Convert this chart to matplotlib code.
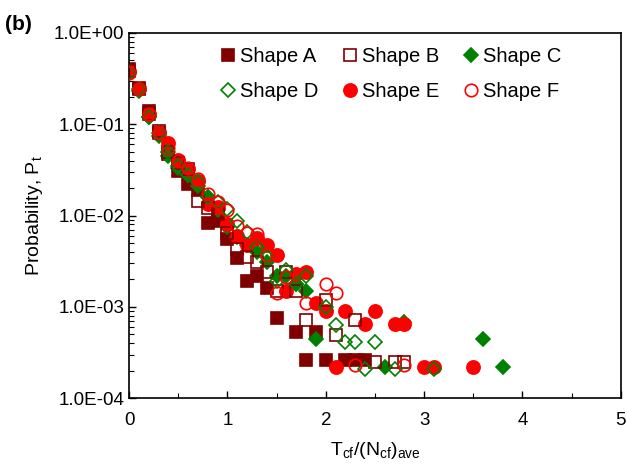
import matplotlib.pyplot as plt
from matplotlib.ticker import FixedLocator, MultipleLocator, LogLocator, NullFormatter

plt.rcParams["font.family"] = ["Liberation Sans", "DejaVu Sans"]
plt.rcParams["mathtext.default"] = "regular"

# Shape A - filled squares
xa = [0, 0.1, 0.2, 0.3, 0.4, 0.5, 0.6, 0.7, 0.8, 0.9, 1.0, 1.1, 1.2, 1.3, 1.4, 1.5,
      1.7, 1.8, 1.9, 2.0, 2.2, 2.3, 2.4]
ya = [0.40, 0.25, 0.14, 0.081, 0.047, 0.031, 0.022, 0.019, 0.0082, 0.0088, 0.0055,
      0.0034, 0.0019, 0.0022, 0.0016, 0.00076, 0.00053, 0.00026, 0.00053, 0.00026,
      0.00026, 0.00026, 0.00026]

# Shape B - open squares
xb = [0, 0.1, 0.2, 0.3, 0.4, 0.5, 0.6, 0.7, 0.8, 0.9, 1.0, 1.1, 1.2, 1.3, 1.4, 1.5,
      1.6, 1.7, 1.8, 2.0, 2.1, 2.3, 2.5, 2.7, 2.8]
yb = [0.38, 0.24, 0.13, 0.085, 0.05, 0.038, 0.032, 0.0144, 0.012, 0.0104, 0.0065,
      0.0043, 0.0035, 0.0031, 0.0024, 0.0015, 0.0024, 0.0015, 0.00072, 0.0012,
      0.00049, 0.00072, 0.00025, 0.00025, 0.00025]

# Shape C - filled diamonds
xc = [0, 0.1, 0.2, 0.3, 0.4, 0.5, 0.6, 0.7, 0.8, 0.9, 1.0, 1.1, 1.2, 1.3, 1.4, 1.5,
      1.6, 1.7, 1.8, 1.9, 2.6, 2.8, 3.6, 3.8]
yc = [0.37, 0.23, 0.12, 0.075, 0.045, 0.033, 0.028, 0.021, 0.016, 0.0115, 0.0075,
      0.0058, 0.0048, 0.004, 0.0031, 0.0022, 0.0022, 0.0018, 0.0015, 0.00045,
      0.00022, 0.00069, 0.00044, 0.00022]

# Shape D - open diamonds
xd = [0, 0.1, 0.2, 0.3, 0.4, 0.5, 0.6, 0.7, 0.8, 0.9, 1.0, 1.1, 1.2, 1.3, 1.4, 1.5,
      1.6, 1.7, 1.8, 2.0, 2.1, 2.2, 2.3, 2.4, 2.5, 2.7, 3.1]
yd = [0.36, 0.24, 0.12, 0.08, 0.05, 0.035, 0.028, 0.023, 0.016, 0.014, 0.0118,
      0.0087, 0.0066, 0.0045, 0.0035, 0.0019, 0.0025, 0.0018, 0.0022, 0.001,
      0.00063, 0.00041, 0.00041, 0.00021, 0.00041, 0.00021, 0.00021]

# Shape E - filled circles
xe = [0, 0.1, 0.2, 0.3, 0.4, 0.5, 0.6, 0.7, 0.8, 0.9, 1.0, 1.1, 1.2, 1.3, 1.4, 1.5,
      1.6, 1.7, 1.8, 1.9, 2.0, 2.1, 2.2, 2.4, 2.5, 2.7, 2.8, 3.0, 3.1, 3.5]
ye = [0.38, 0.25, 0.128, 0.083, 0.062, 0.041, 0.032, 0.024, 0.0134, 0.0123, 0.0081,
      0.006, 0.0047, 0.0057, 0.0047, 0.0037, 0.0015, 0.0023, 0.0024, 0.0011,
      0.00089, 0.00022, 0.00089, 0.00065, 0.00089, 0.00065, 0.00065, 0.00022,
      0.00022, 0.00022]

# Shape F - open circles
xf = [0, 0.1, 0.2, 0.3, 0.4, 0.5, 0.6, 0.7, 0.8, 0.9, 1.0, 1.1, 1.2, 1.3, 1.4, 1.5,
      1.6, 1.8, 2.0, 2.1, 2.3, 2.8]
yf = [0.36, 0.24, 0.13, 0.08, 0.055, 0.04, 0.033, 0.025, 0.017, 0.014, 0.0114,
      0.0077, 0.0065, 0.0063, 0.0037, 0.0014, 0.0021, 0.0011, 0.0018, 0.0014,
      0.00023, 0.00023]

ytick_vals = [1e-4, 1e-3, 1e-2, 1e-1, 1e0]
ytick_labels = ["1.0E-04", "1.0E-03", "1.0E-02", "1.0E-01", "1.0E+00"]

dred = "#800000"
green = "#008000"
red = "#ff0000"

fig = plt.figure(figsize=(6.27, 4.69), dpi=100)
ax = fig.add_axes([0.206, 0.151, 0.784, 0.779])

ms = 8.5
lA, = ax.plot(xa, ya, "s", color=dred, ms=ms, mew=1.2, label="Shape A")
lB, = ax.plot(xb, yb, "s", mfc="none", mec=dred, ms=ms, mew=1.2, label="Shape B")
lC, = ax.plot(xc, yc, "D", color=green, ms=7.5, mew=1.2, label="Shape C")
lD, = ax.plot(xd, yd, "D", mfc="none", mec=green, ms=7.5, mew=1.2, label="Shape D")
lE, = ax.plot(xe, ye, "o", color=red, ms=9.5, mew=1.2, label="Shape E")
lF, = ax.plot(xf, yf, "o", mfc="none", mec=red, ms=9, mew=1.2, label="Shape F")
# keep the open markers on top of the filled ones
for ln in (lB, lD, lF):
    ln.set_zorder(3)

ax.set_yscale("log")
ax.set_xlim(0, 5)
ax.set_ylim(1e-4, 1)
ax.yaxis.set_major_locator(FixedLocator(ytick_vals))
ax.set_yticklabels(ytick_labels)
ax.yaxis.set_minor_locator(LogLocator(base=10, subs=range(2, 10)))
ax.yaxis.set_minor_formatter(NullFormatter())
ax.xaxis.set_major_locator(MultipleLocator(1))
ax.xaxis.set_minor_locator(MultipleLocator(0.5))

ax.tick_params(which="both", direction="in", labelsize=13.5, top=False, right=False)
ax.tick_params(which="major", length=5, width=1)
ax.tick_params(which="minor", length=3.5, width=0.8)
ax.tick_params(axis="x", pad=10)
for sp in ax.spines.values():
    sp.set_linewidth(1.2)

ax.set_xlabel(r"T$_{cf}$/(N$_{cf}$)$_{ave}$", fontsize=14, labelpad=8)
ax.set_ylabel(r"Probability, P$_{t}$", fontsize=14, labelpad=6)

handles = [lA, lD, lB, lE, lC, lF]
ax.legend(handles, [h.get_label() for h in handles], ncol=3, frameon=False,
          loc="upper left", bbox_to_anchor=(0.165, 0.995), fontsize=14.5,
          handlelength=0.6, handletextpad=0.3, columnspacing=1.25,
          labelspacing=0.8, borderaxespad=0.2)

fig.text(0.008, 0.935, "(b)", fontsize=15, fontweight="bold")

fig.savefig("out.png", dpi=100)
